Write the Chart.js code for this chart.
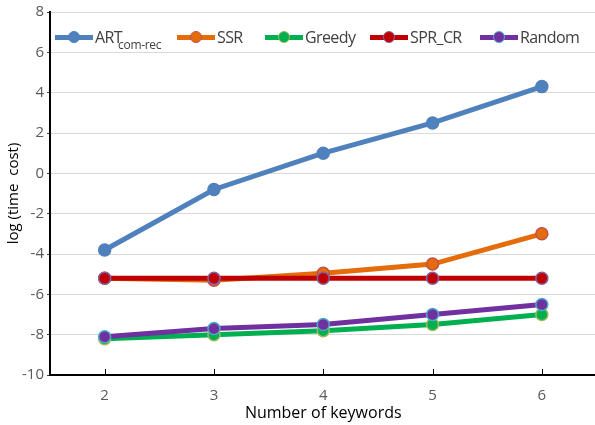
<!DOCTYPE html>
<html>
<head>
<meta charset="utf-8">
<script src="https://cdn.jsdelivr.net/npm/chart.js@4/dist/chart.umd.min.js"></script>
<style>
  body { margin: 0; background: #fff; }
  #wrap { position: relative; width: 595px; height: 425px; overflow: hidden; }
  #legend {
    position: absolute; left: 0; top: 27px; height: 20px; width: 595px;
    font-family: "Open Sans", sans-serif; font-size: 16px; color: #404040;
    letter-spacing: -0.6px;
  }
  .item { position: absolute; top: 0; display: flex; align-items: center; height: 20px; white-space: nowrap; }
  .swatch { position: relative; width: 38px; height: 5px; margin-right: 2px; }
  .swatch span {
    position: absolute; left: 13px; top: -4px; width: 12px; height: 12px;
    border-radius: 50%; box-sizing: border-box; border: 1.5px solid;
  }
  .item sub { font-size: 12px; position: relative; top: 6px; left: -4px; vertical-align: baseline; letter-spacing: -0.3px; }
</style>
</head>
<body>
<div id="wrap">
  <canvas id="chart" width="604" height="425"></canvas>
  <div id="legend"></div>
</div>
<script>
const keywords = ['2', '3', '4', '5', '6'];
const artComRec = [-3.8, -0.8, 1.0, 2.5, 4.3];
const ssr = [-5.2, -5.3, -4.95, -4.5, -3.0];
const greedy = [-8.2, -8.0, -7.8, -7.5, -7.0];
const sprCr = [-5.2, -5.2, -5.2, -5.2, -5.2];
const random = [-8.1, -7.7, -7.5, -7.0, -6.5];

const series = [
    { label: 'ART', sub: 'com-rec', data: artComRec, color: '#4F81BD', edge: '#4F81BD', left: 55 },
    { label: 'SSR', data: ssr, color: '#E46C0A', edge: '#C0504D', left: 177 },
    { label: 'Greedy', data: greedy, color: '#00B050', edge: '#9BBB59', left: 265 },
    { label: 'SPR_CR', data: sprCr, color: '#C00000', edge: '#8064A2', left: 370 },
    { label: 'Random', data: random, color: '#7030A0', edge: '#4BACC6', left: 480 }
];

// small tick marks on the x axis, pointing up into the plot
const innerTicks = {
    id: 'innerTicks',
    afterDraw(chart) {
        const x = chart.scales.x;
        const ctx = chart.ctx;
        ctx.save();
        ctx.strokeStyle = '#000';
        ctx.lineWidth = 1;
        keywords.forEach((k, i) => {
            const px = Math.round(x.getPixelForTick(i)) + 0.5;
            ctx.beginPath();
            ctx.moveTo(px, x.top);
            ctx.lineTo(px, x.top - 6);
            ctx.stroke();
        });
        ctx.restore();
    }
};

const chart = new Chart(document.getElementById('chart'), {
    type: 'line',
    data: {
        labels: keywords,
        datasets: series.map((s, i) => ({
            label: s.label,
            data: s.data,
            borderColor: s.color,
            backgroundColor: s.color,
            pointBackgroundColor: s.color,
            pointBorderColor: s.edge,
            pointBorderWidth: 1.5,
            pointRadius: 6,
            borderWidth: 5,
            tension: 0,
            order: series.length - i
        }))
    },
    options: {
        responsive: false,
        animation: false,
        layout: { padding: { left: 0, right: 0, top: 5, bottom: 0 } },
        plugins: { legend: { display: false }, tooltip: { enabled: false } },
        scales: {
            x: {
                offset: true,
                grid: { display: false },
                border: { color: '#000', width: 2 },
                ticks: { color: '#595959', font: { family: 'Open Sans', size: 15 }, padding: 4 },
                title: { display: true, text: 'Number of keywords', color: '#000',
                         font: { family: 'Open Sans', size: 16 }, padding: { top: 0, bottom: 2 } },
                afterFit(scale) { scale.height = 50; }
            },
            y: {
                min: -10, max: 8,
                ticks: { stepSize: 2, color: '#595959', font: { family: 'Open Sans', size: 15 }, padding: 3 },
                grid: { color: '#D9D9D9', lineWidth: 1, tickLength: 3, tickColor: '#404040' },
                border: { color: '#000', width: 2 },
                title: { display: true, text: 'log (time  cost)', color: '#000',
                         font: { family: 'Open Sans', size: 15 }, padding: { top: 5, bottom: 2 } },
                afterFit(scale) { scale.width = 50; }
            }
        }
    },
    plugins: [innerTicks]
});

// legend with the subscript on ART
const legend = document.getElementById('legend');
series.forEach(s => {
    const item = document.createElement('div');
    item.className = 'item';
    item.style.left = s.left + 'px';
    const sw = document.createElement('div');
    sw.className = 'swatch';
    sw.style.background = s.color;
    const dot = document.createElement('span');
    dot.style.background = s.color;
    dot.style.borderColor = s.edge;
    sw.appendChild(dot);
    item.appendChild(sw);
    const txt = document.createElement('div');
    txt.textContent = s.label;
    if (s.sub) {
        const sub = document.createElement('sub');
        sub.textContent = s.sub;
        txt.appendChild(sub);
    }
    item.appendChild(txt);
    legend.appendChild(item);
});
</script>
</body>
</html>
